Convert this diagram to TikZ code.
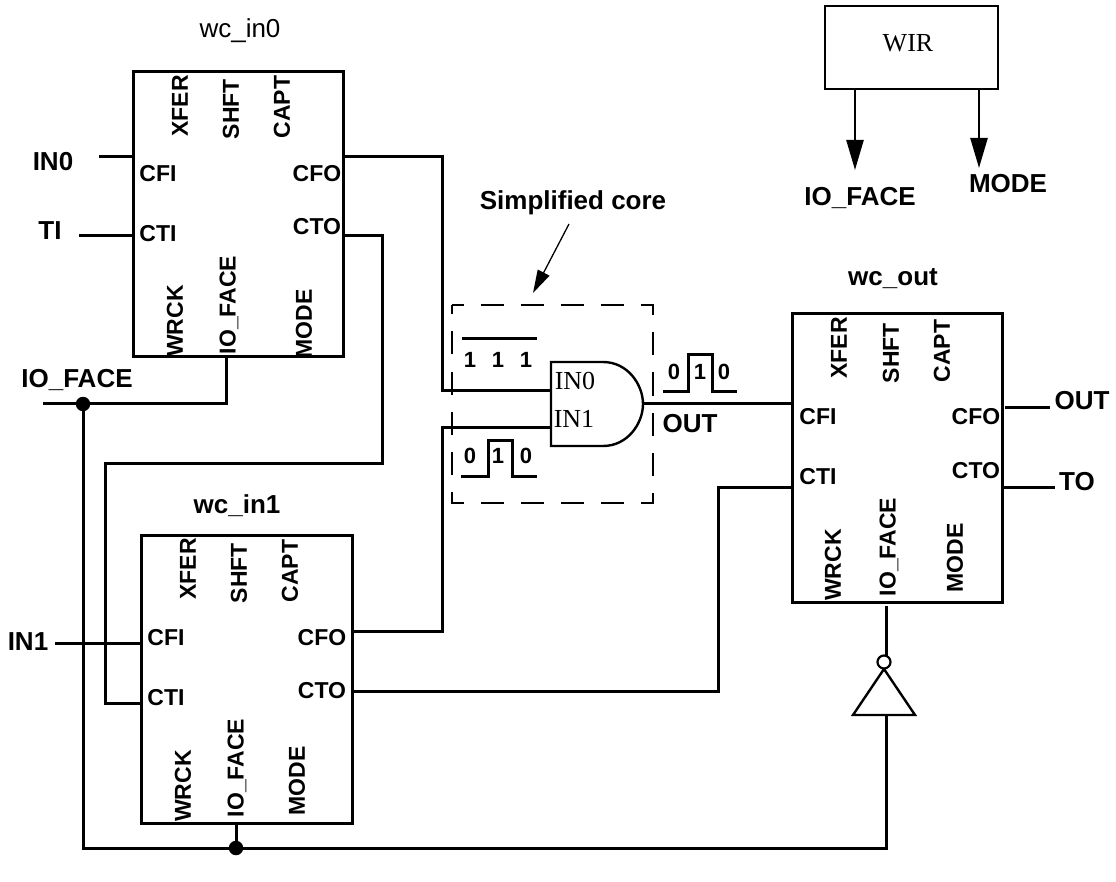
\documentclass[tikz,border=0pt]{standalone}
\usepackage{fontspec}
\setmainfont{Liberation Sans}
\newfontfamily\serifcore{Liberation Serif}
\usetikzlibrary{arrows.meta}
\tikzset{
  wire/.style={line width=3pt,line join=miter},
  thin wire/.style={line width=2.4pt},
  block/.style={draw,line width=3pt,minimum width=#1,inner sep=0pt,outer sep=0pt},
  port/.style={font=\bfseries\fontsize{23}{23}\selectfont,inner sep=0pt},
  vport/.style={port,rotate=90},
  sig/.style={font=\bfseries\fontsize{26}{26}\selectfont,inner sep=0pt},
  bit/.style={font=\bfseries\fontsize{22}{22}\selectfont,inner sep=0pt},
  dot/.style={circle,fill=black,inner sep=0pt,minimum size=14.5pt},
  corelab/.style={font=\serifcore\fontsize{26}{26}\selectfont,inner sep=0pt},
  bigtip/.style={-{Triangle[length=30pt,width=17pt]},shorten >=0pt},
  bubble/.style={circle,draw,line width=2.2pt,fill=white,minimum size=13pt,inner sep=0pt},
}
\begin{document}
\begin{tikzpicture}[x=1pt,y=-1pt]
\useasboundingbox (0,0) rectangle (1116,882);
% blocks
\node[block=210pt,minimum height=285pt] (in0) at (238,214.5) {};
\node[block=211pt,minimum height=288pt] (in1) at (246.5,679) {};
\node[block=210pt,minimum height=288pt] (out) at (897,458) {};
\node[draw,line width=2.4pt,minimum width=173pt,minimum height=83pt,inner sep=0pt,outer sep=0pt] (wir) at (911.5,47.5) {};
\node[corelab] (wirt) at (908,43) {WIR};
% titles
\node[font=\fontsize{26}{26}\selectfont,inner sep=0pt] (t0) at (240,31) {wc\_in0};
\node[sig] (t1) at (237,506) {wc\_in1};
\node[sig] (t2) at (893,279) {wc\_out};
\node[sig] (core) at (573,203) {Simplified core};
% wc_in0 ports
\node[vport] (a1) at (180,106) {XFER};
\node[vport] (a2) at (231,109) {SHFT};
\node[vport] (a3) at (282,107) {CAPT};
\node[vport] (a4) at (175,321) {WRCK};
\node[vport] (a5) at (229,305) {IO\_FACE};
\node[vport] (a6) at (304,324) {MODE};
\node[port] (a7) at (158,174) {CFI};
\node[port] (a8) at (158,234) {CTI};
\node[port] (a9) at (317,174) {CFO};
\node[port] (a10) at (317,227) {CTO};
% wc_in1 ports
\node[vport] (b1) at (188,569) {XFER};
\node[vport] (b2) at (239,573) {SHFT};
\node[vport] (b3) at (290,571) {CAPT};
\node[vport] (b4) at (183,786) {WRCK};
\node[vport] (b5) at (237,768) {IO\_FACE};
\node[vport] (b6) at (297,781) {MODE};
\node[port] (b7) at (166,638) {CFI};
\node[port] (b8) at (166,698) {CTI};
\node[port] (b9) at (322,638) {CFO};
\node[port] (b10) at (322,691) {CTO};
% wc_out ports
\node[vport] (c1) at (839,348) {XFER};
\node[vport] (c2) at (891,353) {SHFT};
\node[vport] (c3) at (942,351) {CAPT};
\node[vport] (c4) at (833,565) {WRCK};
\node[vport] (c5) at (889,547) {IO\_FACE};
\node[vport] (c6) at (955,558) {MODE};
\node[port] (c7) at (818,417) {CFI};
\node[port] (c8) at (818,477) {CTI};
\node[port] (c9) at (976,417) {CFO};
\node[port] (c10) at (976,471) {CTO};
% external signal names
\node[sig] (sIN0) at (53,162) {IN0};
\node[sig] (sTI) at (50,231) {TI};
\node[sig] (sIF) at (77,380) {IO\_FACE};
\node[sig] (sIN1) at (28,642) {IN1};
\node[sig] (sOUT) at (1082,401) {OUT};
\node[sig] (sTO) at (1077,482) {TO};
\node[sig] (sIF2) at (860,198) {IO\_FACE};
\node[sig] (sMODE) at (1008,184) {MODE};
\node[sig] (sOUT2) at (690,424) {OUT};
% free wire ends and pins
\coordinate (eIN0) at (99,157);
\coordinate (eTI) at (79,236);
\coordinate (eIF) at (43,403);
\coordinate (eIN1) at (55,643);
\coordinate (eOUT) at (1050,407);
\coordinate (eTO) at (1055,487);
\coordinate (pIN0) at (551,390);
\coordinate (pIN1) at (551,427);
\coordinate (pY) at (643,403);
\coordinate (in0cfi) at (133,157);
\coordinate (in0cti) at (133,236);
\coordinate (in0cfo) at (343,157);
\coordinate (in0cto) at (343,236);
\coordinate (in0io) at (226,356);
\coordinate (in1cfi) at (141,643);
\coordinate (in1cti) at (141,703);
\coordinate (in1cfo) at (352,631);
\coordinate (in1cto) at (352,691);
\coordinate (in1io) at (236,823);
\coordinate (outcfi) at (792,403);
\coordinate (outcti) at (792,487);
\coordinate (outcfo) at (1005,407);
\coordinate (outcto) at (1002,487);
\coordinate (outio) at (886,606);
\coordinate (j1) at (83,404);
\coordinate (j2) at (236,848);
% wires
\draw[wire] (eIN0) -- (in0cfi);
\draw[wire] (eTI) -- (in0cti);
\draw[wire] (in0cfo) -- (442,157) -- (442,390) -- (pIN0);
\draw[wire] (in0cto) -- (382,236) -- (382,463) -- (105,463) -- (105,703) -- (in1cti);
\draw[wire] (eIF) -- (226,403) -- (in0io);
\draw[wire] (eIN1) -- (in1cfi);
\draw[wire] (in1cfo) -- (442,631) -- (442,427) -- (pIN1);
\draw[wire] (in1cto) -- (718,691) -- (718,487) -- (outcti);
\draw[wire] (pY) -- (outcfi);
\draw[wire] (outcfo) -- (eOUT);
\draw[wire] (outcto) -- (eTO);
\draw[wire] (j1) -- (83,848) -- (886,848) -- (886,715);
\draw[wire] (in1io) -- (j2);
\node[dot] (d1) at (j1) {};
\node[dot] (d2) at (j2) {};
% dashed core
\node[minimum width=201pt,minimum height=198pt,inner sep=0pt,outer sep=0pt] (corebox) at (552.5,404) {};
\draw[line width=2.4pt,dash pattern=on 23pt off 17pt,dash phase=11.5pt] (corebox.north west) -- (corebox.north east) -- (corebox.south east) -- (corebox.south west) -- cycle;
% AND gate
\draw[thin wire,fill=white] (551,362) -- (603,362) .. controls (628,362) and (643,385) .. (643,404) .. controls (643,423) and (628,446) .. (603,446) -- (551,446) -- cycle;
\node[corelab] (g0) at (575,381) {IN0};
\node[corelab] (g1) at (574,419) {IN1};
% inverter
\draw[thin wire,line join=miter,fill=white] (884,669) -- (915,715) -- (853,715) -- cycle;
\draw[wire] (outio) -- (886,656);
\node[bubble] (inv) at (884,662) {};
% WIR arrows
\coordinate (w1a) at (855,89);
\coordinate (w1b) at (855,170);
\coordinate (w2a) at (979,89);
\coordinate (w2b) at (979,168);
\draw[thin wire,bigtip] (w1a) -- (w1b);
\draw[thin wire,bigtip] (w2a) -- (w2b);
% callout
\coordinate (ca) at (569,224);
\coordinate (cb) at (533,293);
\draw[line width=1.3pt,-{Triangle[length=23pt,width=13pt]}] (ca) -- (cb);
% waveforms
\draw[wire] (462,339) -- (537,339);
\node[bit] (w1) at (470,360) {1};
\node[bit] (w2) at (498,360) {1};
\node[bit] (w3) at (526,360) {1};
\draw[wire] (461,476) -- (488,476) -- (488,440) -- (512,440) -- (512,476) -- (537,476);
\node[bit] (w4) at (470,456) {0};
\node[bit] (w5) at (498,456) {1};
\node[bit] (w6) at (526,456) {0};
\draw[wire] (663,391) -- (688,391) -- (688,355) -- (712,355) -- (712,391) -- (737,391);
\node[bit] (w7) at (674,372) {0};
\node[bit] (w8) at (700,372) {1};
\node[bit] (w9) at (724,372) {0};
\end{tikzpicture}
\end{document}
